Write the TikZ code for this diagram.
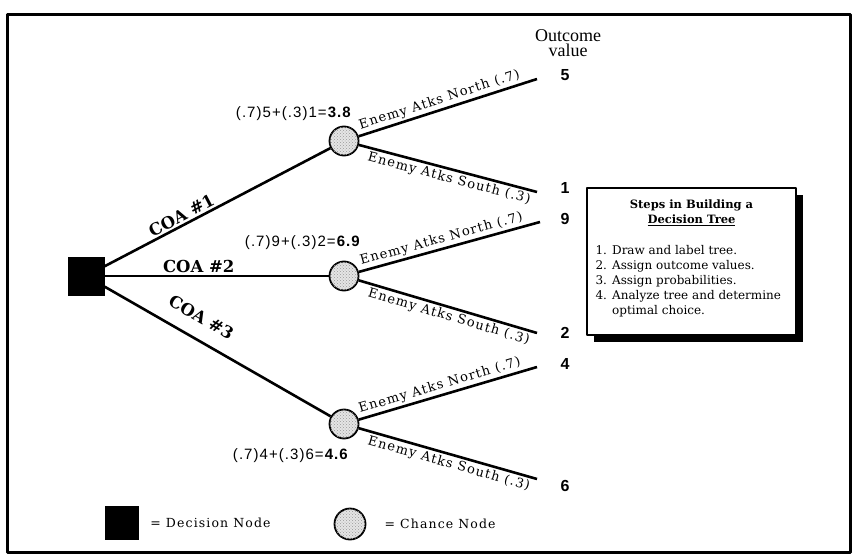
\documentclass[tikz,border=0pt]{standalone}
\usepackage{fontspec}
\setmainfont{DejaVu Serif}
\newfontfamily\atkfont[LetterSpace=9]{DejaVu Serif}
\newfontfamily\sansnum[LetterSpace=7]{Liberation Sans}
\newfontfamily\headfont{Liberation Serif}
\usetikzlibrary{positioning,shadows,patterns}
\tikzset{
  decision/.style={fill=black, minimum width=37pt, minimum height=39pt, inner sep=0pt},
  chance/.style={circle, draw, line width=1.8pt, fill=gray!20, minimum size=29pt, inner sep=0pt,
    postaction={pattern=crosshatch dots, pattern color=gray!80}},
  branch/.style={line width=2.6pt},
  coalabel/.style={font=\fontsize{16.5}{18}\selectfont\bfseries, sloped, above, inner sep=2pt},
  atklabel/.style={font=\atkfont\fontsize{13}{14}\selectfont, sloped, inner sep=2pt},
  evlabel/.style={font=\sansnum\fontsize{15}{17}\selectfont, inner sep=0pt},
  outcome/.style={font=\sansnum\bfseries\fontsize{16}{18}\selectfont},
  legendtext/.style={font=\atkfont\fontsize{12.5}{14}\selectfont, inner sep=1pt},
  stepsbox/.style={draw, line width=1.2pt, fill=white, minimum width=209pt, minimum height=147pt,
    drop shadow={shadow xshift=7pt, shadow yshift=-7pt, fill=black, opacity=1}},
}
\begin{document}
\begin{tikzpicture}[x=1pt, y=1pt, line join=round]
\useasboundingbox (0,0) rectangle (856,558);
\def\xc{344} \def\xe{537} % chance nodes / branch ends
\draw[line width=3pt] (7,6) rectangle (850,543);
% nodes
\node[decision] (dec) at (86,282) {};
\node[chance] (c1) at (\xc,417) {};
\node[chance] (c2) at (\xc,282) {};
\node[chance] (c3) at (\xc,134) {};
\coordinate (e5) at (\xe,479);
\coordinate (e1) at (\xe,366);
\coordinate (e9) at (\xe+3,336);
\coordinate (e2) at (\xe,225);
\coordinate (e4) at (\xe,191);
\coordinate (e6) at (\xe,79);
\node[outcome] (o5) at (565,483) {5};
\node[outcome] (o1) at (565,370) {1};
\node[outcome] (o9) at (565,339) {9};
\node[outcome] (o2) at (565,225) {2};
\node[outcome] (o4) at (565,194) {4};
\node[outcome] (o6) at (565,72) {6};
\node[font=\headfont\fontsize{18}{15}\selectfont, align=center, above=6pt of o5, xshift=3pt] (head) {Outcome\\value};
% courses of action
\draw[branch] (dec) -- node[coalabel, pos=0.36] {COA \#1} (c1);
\draw[branch] (dec) -- node[coalabel, pos=0.42] {COA \#2} (c2);
\draw[branch] (dec) -- node[coalabel, pos=0.38, yshift=12pt] {COA \#3} (c3);
% enemy actions
\draw[branch] (c1) -- node[atklabel, above, pos=0.47] {Enemy Atks North (.7)} (e5);
\draw[branch] (c1) -- node[atklabel, below, pos=0.52] {Enemy Atks South (.3)} (e1);
\draw[branch] (c2) -- node[atklabel, above, pos=0.47] {Enemy Atks North (.7)} (e9);
\draw[branch] (c2) -- node[atklabel, below, pos=0.52] {Enemy Atks South (.3)} (e2);
\draw[branch] (c3) -- node[atklabel, above, pos=0.47] {Enemy Atks North (.7)} (e4);
\draw[branch] (c3) -- node[atklabel, below, pos=0.52] {Enemy Atks South (.3)} (e6);
% expected values
\node[evlabel, anchor=south east] (ev1) at ([shift={(8,20)}]c1.center) {(.7)5+(.3)1=\textbf{3.8}};
\node[evlabel, anchor=south east] (ev2) at ([shift={(17,26)}]c2.center) {(.7)9+(.3)2=\textbf{6.9}};
\node[evlabel, anchor=north east] (ev3) at ([shift={(5,-24)}]c3.center) {(.7)4+(.3)6=\textbf{4.6}};
% steps box
\node[stepsbox] (steps) at (691.5,296.5) {};
\node[font=\bfseries\fontsize{11.5}{15}\selectfont, align=center, below=9pt of steps.north] (stepstitle)
  {Steps in Building a\\\underline{Decision Tree}};
\node[font=\fontsize{12}{15}\selectfont, anchor=north west, inner sep=0pt] (steplist)
  at ([xshift=9pt,yshift=-56pt]steps.north west)
  {\begin{tabular}{@{}l@{ }l@{}}
   1.&Draw and label tree.\\
   2.&Assign outcome values.\\
   3.&Assign probabilities.\\
   4.&Analyze tree and determine\\
     &optimal choice.
   \end{tabular}};
% legend
\node[decision, minimum width=34pt, minimum height=34pt] (legdec) at (122,35) {};
\node[legendtext, right=10pt of legdec] (legdectext) {= Decision Node};
\node[chance, minimum size=31pt] (legch) at (350,34) {};
\node[legendtext, right=17pt of legch] (legchtext) {= Chance Node};
\end{tikzpicture}
\end{document}
